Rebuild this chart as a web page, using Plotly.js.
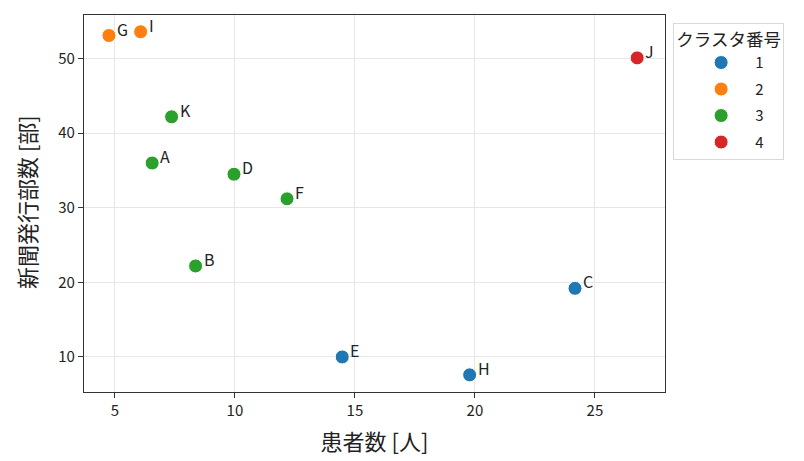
<!DOCTYPE html>
<html>
<head>
<meta charset="utf-8">
<script src="https://cdn.plot.ly/plotly-3.0.1.min.js"></script>
<style>html,body{margin:0;padding:0;background:#fff;}#chart{width:804px;height:461px;}</style>
</head>
<body>
<div id="chart"></div>
<script>
// Data
const names    = ["A", "B", "C", "D", "E", "F", "G", "H", "I", "J", "K"];
const patients = [6.55, 8.36, 24.17, 9.96, 14.47, 12.17, 4.75, 19.78, 6.07, 26.76, 7.36];
const papers   = [36.0, 22.2, 19.2, 34.5, 10.0, 31.2, 53.1, 7.6, 53.6, 50.1, 42.2];
const clusters = [3, 3, 1, 3, 1, 3, 2, 1, 2, 4, 3];
const clusterIds = [1, 2, 3, 4];
const clusterColors = ["#1f77b4", "#ff7f0e", "#2ca02c", "#d62728"];
const xTitle = "患者数 [人]";
const yTitle = "新聞発行部数 [部]";
const legendTitle = "クラスタ番号";

const FONT = "'Noto Sans CJK JP', 'Noto Sans', sans-serif";

const traces = clusterIds.map((c, k) => {
  const idx = clusters.map((v, i) => v === c ? i : -1).filter(i => i >= 0);
  return {
    type: "scatter",
    mode: "markers",
    name: String(c),
    legendgroup: "g" + c,
    x: idx.map(i => patients[i]),
    y: idx.map(i => papers[i]),
    marker: {color: clusterColors[k], size: 14, line: {color: "#ffffff", width: 1}},
    hoverinfo: "x+y"
  };
});

const annotations = names.map((n, i) => ({
  x: patients[i], y: papers[i], xref: "x", yref: "y",
  text: n, showarrow: false, xanchor: "left", yanchor: "middle",
  xshift: 6, yshift: 7,
  font: {family: FONT, size: 16, color: "#222"}
}));
// y-axis title drawn as a rotated annotation so it can sit as far left as the reference
annotations.push({
  x: 0, y: 0.504, xref: "paper", yref: "paper",
  text: yTitle, showarrow: false, textangle: -90,
  xanchor: "center", yanchor: "middle", xshift: -58,
  font: {family: FONT, size: 22, color: "#222"}
});

const layout = {
  width: 804, height: 461,
  margin: {l: 84, r: 139, t: 15, b: 69},
  paper_bgcolor: "#ffffff", plot_bgcolor: "#ffffff",
  font: {family: FONT, size: 15, color: "#222"},
  xaxis: {
    range: [3.71, 27.92],
    tickvals: [5, 10, 15, 20, 25],
    showgrid: true, gridcolor: "#e6e6e6", gridwidth: 1,
    showline: true, linecolor: "#333", linewidth: 1.2, mirror: true,
    ticks: "outside", ticklen: 5, tickcolor: "#333",
    zeroline: false,
    tickfont: {family: FONT, size: 15, color: "#222"},
    title: {text: xTitle, font: {family: FONT, size: 22, color: "#222"}, standoff: 15}
  },
  yaxis: {
    range: [5.3, 55.85],
    tickvals: [10, 20, 30, 40, 50],
    showgrid: true, gridcolor: "#e6e6e6", gridwidth: 1,
    showline: true, linecolor: "#333", linewidth: 1.2, mirror: true,
    ticks: "outside", ticklen: 5, tickcolor: "#333",
    zeroline: false,
    tickfont: {family: FONT, size: 15, color: "#222"}
  },
  legend: {
    x: 1.014, xanchor: "left", y: 0.98, yanchor: "top",
    bgcolor: "#ffffff", bordercolor: "#d9d9d9", borderwidth: 1,
    font: {family: FONT, size: 15, color: "#222"},
    title: {text: legendTitle, side: "top center", font: {family: FONT, size: 17.5, color: "#222"}},
    tracegroupgap: 4,
    itemwidth: 58,
    indentation: 13
  },
  annotations: annotations,
  showlegend: true
};

Plotly.newPlot("chart", traces, layout, {displayModeBar: false, staticPlot: true});
</script>
</body>
</html>
